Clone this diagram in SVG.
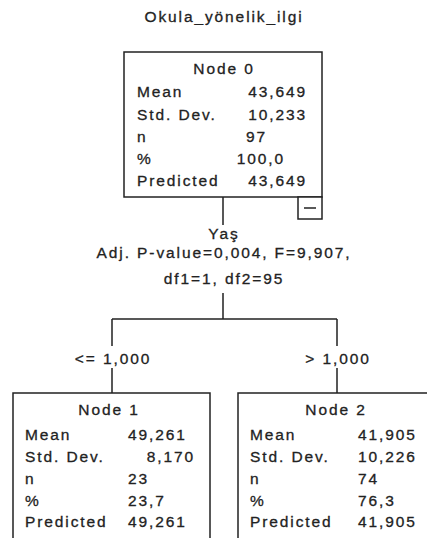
<svg xmlns="http://www.w3.org/2000/svg" width="427" height="538" viewBox="0 0 427 538">
<style>
text{font-family:"Liberation Sans",Arial,sans-serif;font-size:15.5px;letter-spacing:1.9px;fill:#222;stroke:#222;stroke-width:0.3}
.m{text-anchor:middle}
.e{text-anchor:end}
.box{fill:#fff;stroke:#222;stroke-width:1.5}
.ln{fill:none;stroke:#222;stroke-width:1.5}
</style>
<rect width="427" height="538" fill="#fff"/>
<text class="m" x="224" y="22">Okula_yönelik_ilgi</text>
<g id="connectors">
<path class="ln" d="M223 197V225M223 293V319M112 319H337M112 319V346M112 368V393M337 319V346M337 368V393"/>
<text class="m" x="224" y="239">Yaş</text>
<text class="m" x="224" y="258">Adj. P-value=0,004, F=9,907,</text>
<text class="m" x="224" y="284">df1=1, df2=95</text>
<text class="m" x="113" y="364">&lt;= 1,000</text>
<text class="m" x="338" y="364">&gt; 1,000</text>
</g>
<g id="node0">
<rect class="box" x="124" y="52" width="198" height="145"/>
<rect class="box" x="298" y="197" width="24" height="22"/>
<path class="ln" d="M304 208H316"/>
<text class="m" x="224" y="74">Node 0</text>
<text x="137" y="97">Mean</text><text class="e" x="307" y="97">43,649</text>
<text x="137" y="120">Std. Dev.</text><text class="e" x="307" y="120">10,233</text>
<text x="137" y="142">n</text><text class="e" x="267" y="142">97</text>
<text x="137" y="164">%</text><text class="e" x="285" y="164">100,0</text>
<text x="137" y="186">Predicted</text><text class="e" x="307" y="186">43,649</text>
</g>
<g id="node1">
<rect class="box" x="13" y="393" width="197" height="160"/>
<text class="m" x="109" y="415">Node 1</text>
<text x="25" y="440">Mean</text><text x="128" y="440">49,261</text>
<text x="25" y="462">Std. Dev.</text><text class="e" x="195" y="462">8,170</text>
<text x="25" y="484">n</text><text x="128" y="484">23</text>
<text x="25" y="506">%</text><text x="128" y="506">23,7</text>
<text x="25" y="527">Predicted</text><text x="128" y="527">49,261</text>
</g>
<g id="node2">
<rect class="box" x="238" y="393" width="197" height="160"/>
<text class="m" x="336" y="415">Node 2</text>
<text x="250" y="440">Mean</text><text x="358" y="440">41,905</text>
<text x="250" y="462">Std. Dev.</text><text x="358" y="462">10,226</text>
<text x="250" y="484">n</text><text x="358" y="484">74</text>
<text x="250" y="506">%</text><text x="358" y="506">76,3</text>
<text x="250" y="527">Predicted</text><text x="358" y="527">41,905</text>
</g>
</svg>
